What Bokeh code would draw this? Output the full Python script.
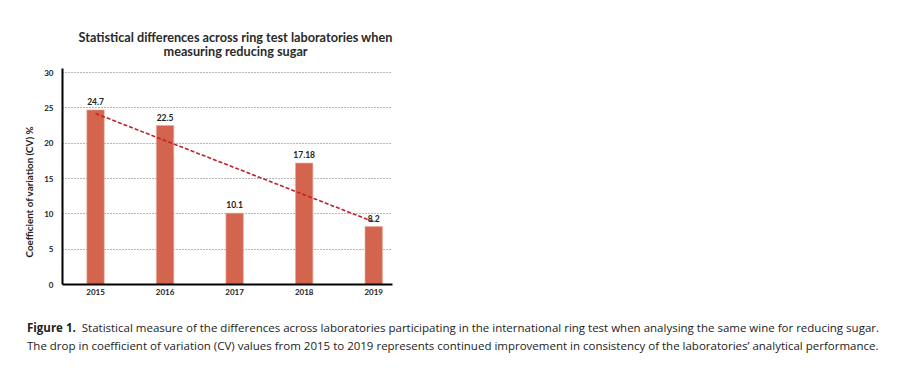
import numpy as np
from bokeh.plotting import figure
from bokeh.layouts import column
from bokeh.models import (Range1d, FixedTicker, ColumnDataSource, LabelSet,
                          Title, Div)
from bokeh.embed import file_html
from bokeh.resources import INLINE
from bokeh.core.properties import value

# ---- data ----
years = [2015, 2016, 2017, 2018, 2019]
cv_values = [24.7, 22.5, 10.1, 17.18, 8.2]
value_labels = ["24.7", "22.5", "10.1", "17.18", "8.2"]
y_ticks = [0, 5, 10, 15, 20, 25, 30]
year_labels = ["2015", "2016", "2017", "2018", "2019"]

title_lines = ["Statistical differences across ring test laboratories when",
               "measuring reducing sugar"]
y_label = "Coefficient of variation (CV) %"
caption_bold = "Figure 1."
caption_line1 = ("Statistical measure of the differences across laboratories participating "
                 "in the international ring test when analysing the same wine for reducing sugar.")
caption_line2 = ("The drop in coefficient of variation (CV) values from 2015 to 2019 represents "
                 "continued improvement in consistency of the laboratories\u2019 analytical performance.")

# linear trend from the data
slope, intercept = np.polyfit(years, cv_values, 1)
trend_x = [years[0], years[-1]]
trend_y = [slope * x + intercept for x in trend_x]

BAR = "#d3654f"
FONT = "Lato"

p = figure(width=900, height=314, output_backend="svg", toolbar_location=None,
           x_range=Range1d(2014.525, 2019.27), y_range=Range1d(0, 30.57),
           min_border_left=62, min_border_right=508, min_border_top=68,
           min_border_bottom=30, background_fill_color="white",
           border_fill_color="white")
p.outline_line_color = None

src = ColumnDataSource(dict(x=years, top=cv_values, lab=value_labels))
p.vbar(x="x", top="top", width=0.25, source=src, fill_color=BAR,
       line_color="#e9a797", line_width=0.6)
p.line(trend_x, trend_y, line_color="#c1222a", line_width=1.6, line_dash="4 2")

p.add_layout(LabelSet(x="x", y="top", text="lab", source=src, y_offset=5,
                      text_align="center", text_baseline="bottom",
                      text_font=value(FONT), text_font_style="bold",
                      text_font_size="8.5px", text_color="#222222"))

# axes
p.xaxis.ticker = FixedTicker(ticks=years)
p.xaxis.major_label_overrides = {y: s for y, s in zip(years, year_labels)}
p.yaxis.ticker = FixedTicker(ticks=y_ticks)
for ax in (p.xaxis, p.yaxis):
    ax.axis_line_color = "black"
    ax.axis_line_width = 2
    ax.major_tick_line_color = None
    ax.minor_tick_line_color = None
    ax.major_tick_out = 0
    ax.major_tick_in = 0
    ax.minor_tick_out = 0
    ax.major_label_text_font = FONT
    ax.major_label_text_font_style = "bold"
    ax.major_label_text_font_size = "8px"
    ax.major_label_text_color = "#222222"
p.xaxis.major_label_standoff = 4
p.yaxis.major_label_standoff = 9

# y-axis title as a side title so it can sit lower, as in the original
p.add_layout(Title(text=y_label, align="left", offset=27, vertical_align="top",
                   text_font=FONT, text_font_style="bold",
                   text_font_size="9.8px", text_color="#222222",
                   standoff=10), "left")

p.xgrid.visible = False
p.ygrid.ticker = FixedTicker(ticks=y_ticks)
p.ygrid.grid_line_color = "#6f6f6f"
p.ygrid.grid_line_dash = "1 2"
p.ygrid.grid_line_width = 1

# two-line title
p.add_layout(Title(text="\n".join(title_lines), align="left", offset=16,
                   vertical_align="top", text_align="center",
                   text_font=FONT, text_font_style="bold",
                   text_font_size="12.7px", text_color="#2a2a2a",
                   text_line_height=0.9, standoff=15), "above")

caption_html = (
    f'<div style="font-family:\'Open Sans\';font-size:11.5px;line-height:18px;'
    f'color:#222;white-space:nowrap;padding-left:22px;">'
    f'<b style="margin-right:3px">{caption_bold}</b> {caption_line1}<br>{caption_line2}</div>'
)
cap = Div(text=caption_html, width=900, height=40)

layout = column(p, cap, spacing=0)
open("out.html", "w").write(file_html(layout, INLINE))
